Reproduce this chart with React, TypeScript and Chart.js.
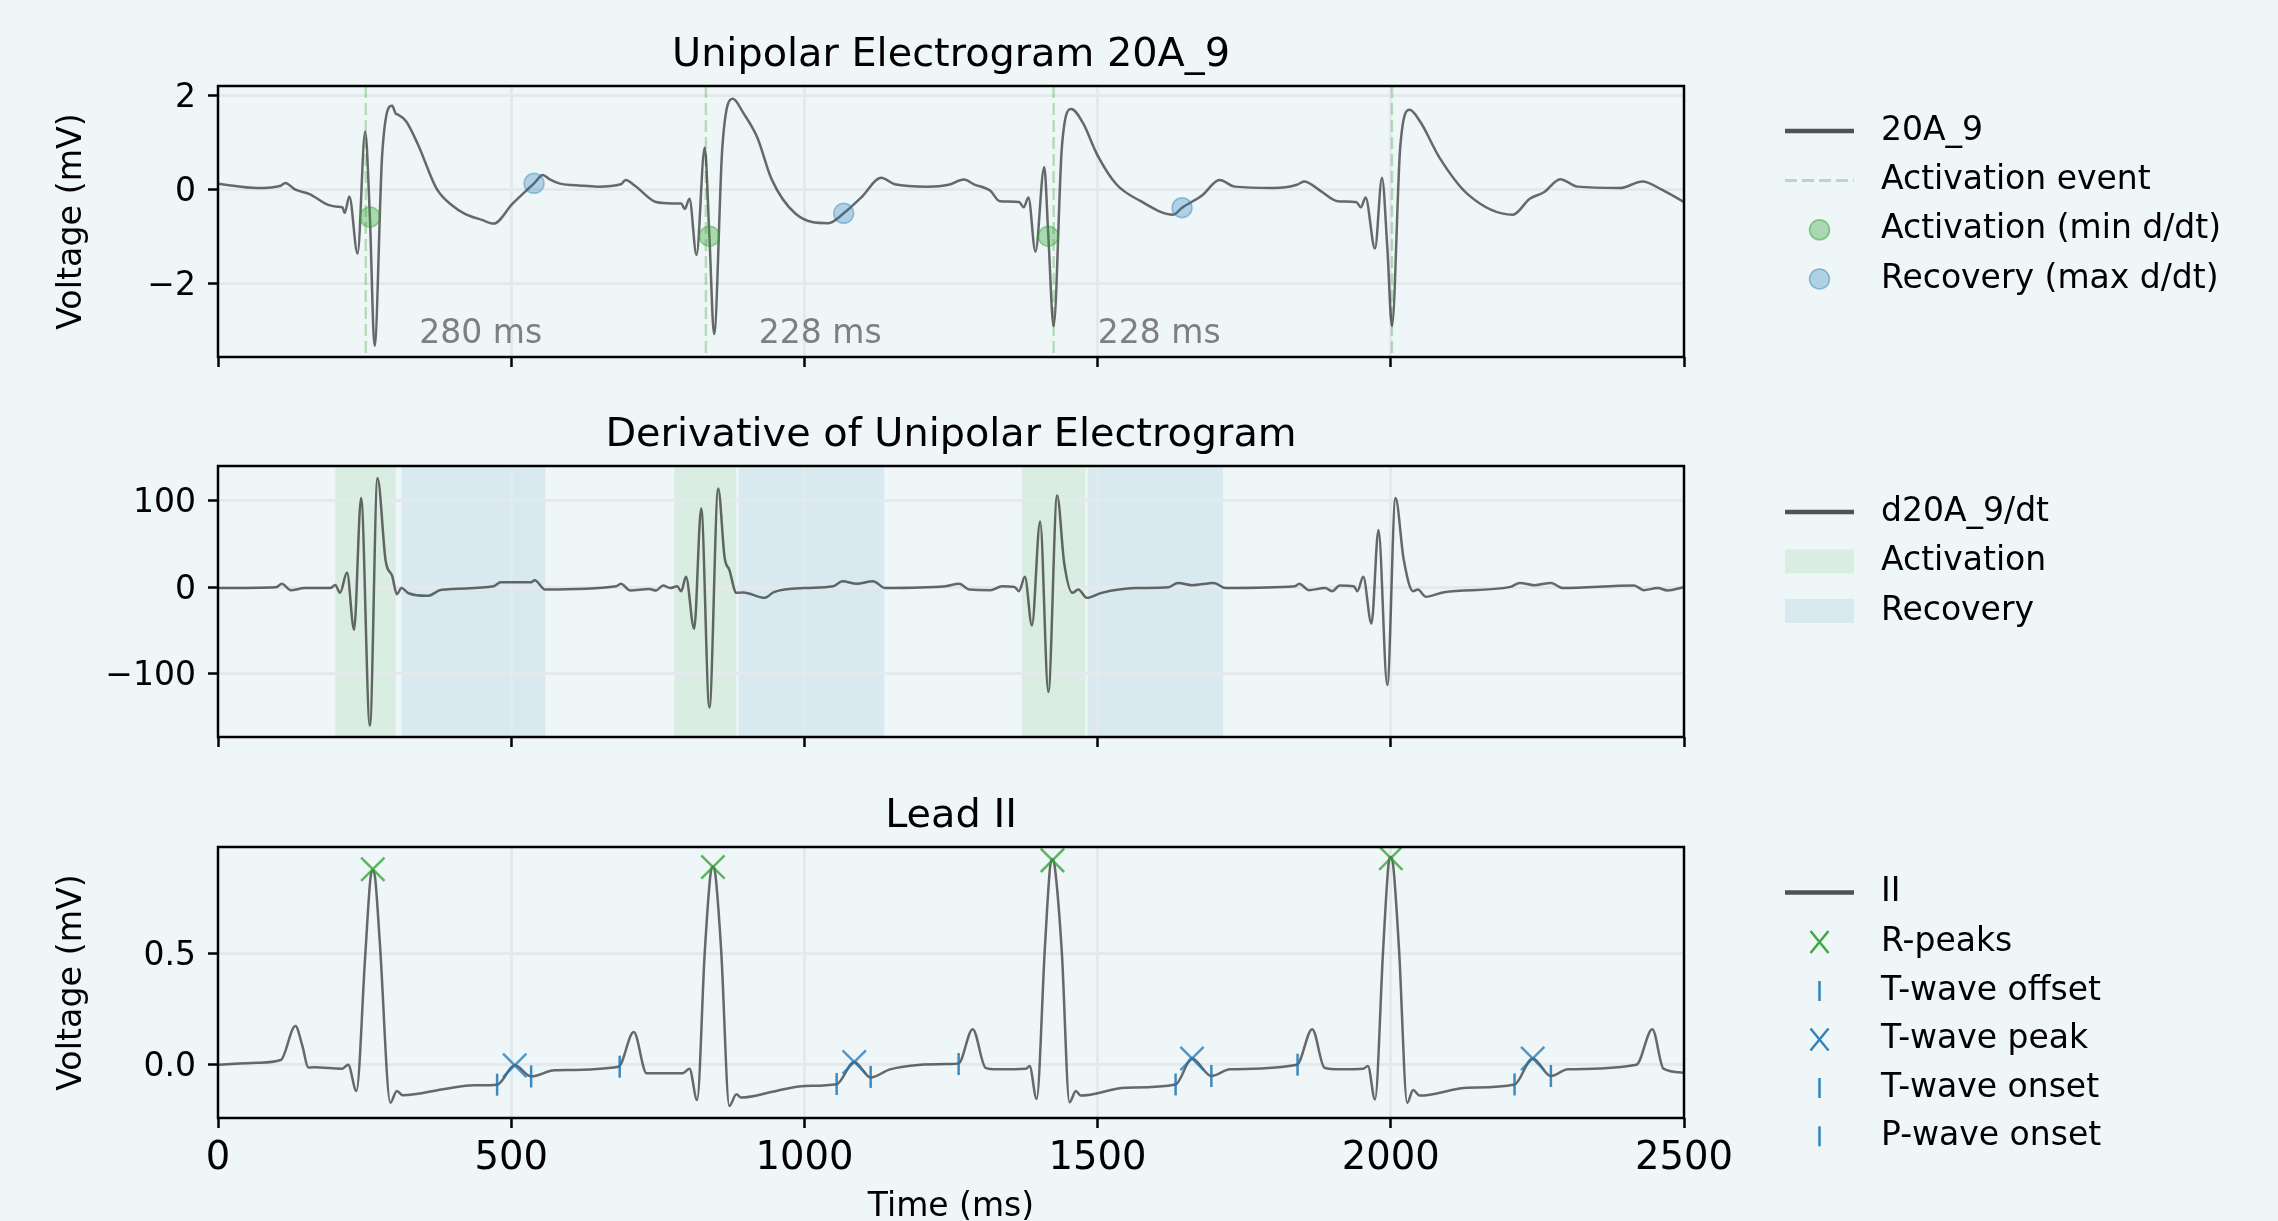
import React, { useEffect, useRef } from 'react';
import { Chart, registerables } from 'chart.js';

Chart.register(...registerables);

// ---------------- data ----------------
const timeTicks = [0, 500, 1000, 1500, 2000, 2500];
const timeRange = [0, 2500];

// Panel 1: unipolar electrogram 20A_9 (mV)
const egmTime = [0, 67, 107, 115, 131, 156, 188, 204, 212, 216, 224, 238, 251, 259, 267, 280, 297, 303, 307, 321, 341, 373, 400, 421, 450, 470, 502, 539, 554, 565, 582, 620, 647, 687, 695, 711, 747, 775, 790, 796, 804, 816, 830, 838, 846, 860, 878, 896, 920, 944, 985, 1041, 1067, 1097, 1131, 1154, 1210, 1246, 1272, 1289, 1317, 1333, 1366, 1374, 1382, 1394, 1409, 1416, 1425, 1439, 1455, 1475, 1499, 1532, 1572, 1629, 1644, 1678, 1708, 1734, 1799, 1840, 1852, 1880, 1909, 1941, 1949, 1957, 1973, 1985, 1994, 2002, 2016, 2032, 2050, 2083, 2131, 2208, 2237, 2261, 2289, 2318, 2391, 2429, 2463, 2500];
const egmVolt = [0.12, 0.03, 0.08, 0.14, 0.0, -0.1, -0.33, -0.37, -0.38, -0.5, -0.15, -1.37, 1.23, -0.59, -3.34, 0.75, 1.79, 1.62, 1.6, 1.45, 0.96, 0.01, -0.35, -0.52, -0.65, -0.73, -0.31, 0.13, 0.31, 0.22, 0.13, 0.08, 0.06, 0.11, 0.2, 0.08, -0.27, -0.3, -0.3, -0.42, -0.2, -1.4, 0.89, -1.0, -3.09, 0.89, 1.94, 1.63, 1.1, 0.22, -0.52, -0.72, -0.51, -0.17, 0.25, 0.11, 0.06, 0.1, 0.21, 0.11, -0.03, -0.25, -0.27, -0.38, -0.17, -1.33, 0.48, -1.0, -2.92, 0.89, 1.72, 1.42, 0.75, 0.11, -0.24, -0.54, -0.39, -0.13, 0.2, 0.06, 0.03, 0.1, 0.17, -0.03, -0.25, -0.27, -0.38, -0.17, -1.26, 0.25, -1.23, -2.92, 0.89, 1.7, 1.45, 0.68, -0.1, -0.54, -0.2, -0.06, 0.22, 0.06, 0.03, 0.17, -0.01, -0.27];
const activationTime = [259, 838, 1416];
const activationVolt = [-0.59, -1.0, -1.0];
const recoveryTime = [539, 1067, 1644];
const recoveryVolt = [0.13, -0.51, -0.39];
const activationEventTime = [252, 832, 1425, 2002];
const intervalText = ['280 ms', '228 ms', '228 ms'];
const intervalTextTime = [448, 1027, 1605];
const intervalTextVolt = [-3.09, -3.09, -3.09];
const egmTicks = [-2, 0, 2];
const egmRange = [-3.58, 2.21];
const egmLegendLabels = ['20A_9', 'Activation event', 'Activation (min d/dt)', 'Recovery (max d/dt)'];

// Panel 2: derivative
const derivTime = [0, 99, 109, 124, 148, 192, 200, 208, 220, 232, 244, 259, 272, 286, 297, 305, 313, 325, 357, 381, 470, 482, 534, 540, 558, 679, 687, 703, 735, 747, 759, 771, 783, 790, 798, 812, 824, 838, 853, 864, 872, 884, 896, 932, 948, 1001, 1049, 1065, 1089, 1117, 1138, 1240, 1264, 1281, 1317, 1337, 1358, 1366, 1376, 1388, 1402, 1416, 1431, 1443, 1457, 1467, 1482, 1507, 1564, 1621, 1637, 1661, 1698, 1718, 1836, 1844, 1860, 1888, 1900, 1913, 1937, 1943, 1953, 1967, 1979, 1994, 2008, 2022, 2038, 2046, 2060, 2091, 2204, 2220, 2245, 2273, 2293, 2415, 2431, 2455, 2472, 2500];
const derivValue = [-1, 0, 4, -3.5, -1, -1, 2.7, -6.5, 17, -49, 103, -160, 126, 30, 13, -8, -1, -7, -10, -3, 1, 5.7, 5.7, 8, -2.7, 1, 4, -3.8, -2, -3.8, 2, -1, 1, -4.6, 12, -48, 91, -139, 114, 34, 20, -6.5, -6, -12.3, -5.7, -1, 1, 7, 4, 7, -1, 1, 4, -2.7, -3.4, 1, 0.4, -4.6, 12, -44, 76, -121, 106, 28, -6.5, -2.7, -12.3, -6.5, -1, 0, 5, 2.3, 5, -1, 1, 4, -3.4, -1, -4.6, 2, 1, -4.6, 12, -42, 66, -113, 103, 32, -4.6, -2.7, -11, -5.7, 0.4, 5, 2.3, 5, -1, 2, -3.4, -1, -3.8, 0];
const activationWindowStart = [200, 778, 1371];
const activationWindowEnd = [303, 884, 1479];
const recoveryWindowStart = [313, 888, 1483];
const recoveryWindowEnd = [558, 1136, 1714];
const derivTicks = [-100, 0, 100];
const derivRange = [-173, 140];
const derivLegendLabels = ['d20A_9/dt', 'Activation', 'Recovery'];

// Panel 3: Lead II
const leadTime = [0, 67, 107, 132, 144, 154, 164, 212, 222, 236, 251, 260, 264, 268, 276, 294, 305, 315, 389, 437, 476, 506, 534, 574, 683, 709, 731, 792, 804, 817, 830, 840, 844, 848, 858, 872, 884, 892, 952, 1001, 1055, 1085, 1113, 1146, 1246, 1263, 1287, 1309, 1329, 1378, 1384, 1396, 1410, 1419, 1423, 1427, 1439, 1452, 1463, 1471, 1548, 1633, 1661, 1694, 1726, 1840, 1866, 1887, 1913, 1953, 1961, 1973, 1987, 1996, 2000, 2004, 2014, 2028, 2038, 2049, 2131, 2211, 2242, 2273, 2302, 2419, 2446, 2465, 2500];
const leadVolt = [0.0, 0.009, 0.021, 0.174, 0.084, -0.013, -0.012, -0.018, 0.0, -0.118, 0.488, 0.84, 0.877, 0.84, 0.548, -0.171, -0.118, -0.138, -0.108, -0.093, -0.09, -0.003, -0.053, -0.025, -0.009, 0.147, -0.039, -0.039, -0.018, -0.159, 0.503, 0.86, 0.892, 0.86, 0.518, -0.186, -0.133, -0.148, -0.118, -0.096, -0.088, 0.012, -0.058, -0.021, 0.003, 0.006, 0.16, -0.014, -0.021, -0.018, -0.006, -0.154, 0.521, 0.89, 0.925, 0.89, 0.506, -0.169, -0.119, -0.139, -0.104, -0.089, 0.028, -0.051, -0.021, 0.0, 0.16, -0.014, -0.021, -0.018, -0.006, -0.157, 0.521, 0.9, 0.935, 0.9, 0.521, -0.172, -0.114, -0.139, -0.104, -0.089, 0.028, -0.051, -0.021, 0.0, 0.16, -0.018, -0.036];
const rPeakTime = [264, 844, 1423, 2000];
const rPeakVolt = [0.88, 0.89, 0.92, 0.93];
const tOffsetTime = [534, 1113, 1694, 2273];
const tOffsetVolt = [-0.053, -0.055, -0.051, -0.051];
const tPeakTime = [506, 1085, 1661, 2242];
const tPeakVolt = [-0.003, 0.012, 0.028, 0.028];
const tOnsetTime = [476, 1055, 1633, 2211];
const tOnsetVolt = [-0.09, -0.087, -0.089, -0.089];
const pOnsetTime = [685, 1263, 1841];
const pOnsetVolt = [-0.009, 0.003, 0.0];
const leadTicks = [0, 0.5];
const leadRange = [-0.24, 0.98];
const leadLegendLabels = ['II', 'R-peaks', 'T-wave offset', 'T-wave peak', 'T-wave onset', 'P-wave onset'];

// ---------------- styling / layout ----------------
const PAGE_W = 2278;
const PAGE_H = 1221;
const CANVAS_W = 2278;
const CANVAS_H = 1240;
const AREA_LEFT = 218;
const AREA_RIGHT = 1684;
const PAD_LEFT = 50;
const BG = '#eff6f8';
const FONT = "'DejaVu Sans', 'Liberation Sans', sans-serif";
const GRID = '#e4e9eb';
const TRACE = 'rgba(30,30,30,0.66)';
const LEGEND_TRACE = 'rgba(40,45,50,0.82)';
const GREEN = 'rgba(44,160,44,';
const BLUE = 'rgba(31,119,180,';
const TITLE_SIZE = 39.8;
const TITLE_PAD_BOTTOM = 6.5;
const TITLE_BOX = TITLE_SIZE * 1.2 + TITLE_PAD_BOTTOM;
const LEGEND_SHIFT = 3;

Chart.defaults.font.family = FONT;
Chart.defaults.color = '#000';

const pts = (xs: number[], ys: number[]) => xs.map((x, i) => ({ x, y: ys[i] }));
const minusFmt = (digits: number) => (v: number) =>
  (v < 0 ? '\u2212' : '') + Math.abs(v).toFixed(digits);

type LegendEntry = { label: string; kind: string; color: string; edge?: string; y: number };

function legendPlugin(entries: LegendEntry[]) {
  return {
    id: 'sideLegend',
    afterDraw(chart: any) {
      const ctx = chart.ctx as CanvasRenderingContext2D;
      const x0 = 1785, x1 = 1854, xm = 1819.5, tx = 1881;
      ctx.save();
      entries.forEach((e) => {
        const y = e.y + LEGEND_SHIFT;
        ctx.setLineDash([]);
        if (e.kind === 'line' || e.kind === 'dash') {
          ctx.beginPath();
          ctx.strokeStyle = e.color;
          ctx.lineWidth = e.kind === 'line' ? 4.5 : 3;
          if (e.kind === 'dash') ctx.setLineDash([12, 5]);
          ctx.moveTo(x0, y);
          ctx.lineTo(x1, y);
          ctx.stroke();
          ctx.setLineDash([]);
        } else if (e.kind === 'circle') {
          ctx.beginPath();
          ctx.arc(xm, y, 10, 0, Math.PI * 2);
          ctx.fillStyle = e.color;
          ctx.fill();
          ctx.strokeStyle = e.edge || e.color;
          ctx.lineWidth = 1.5;
          ctx.stroke();
        } else if (e.kind === 'x') {
          ctx.beginPath();
          ctx.strokeStyle = e.color;
          ctx.lineWidth = 2.5;
          ctx.moveTo(xm - 9, y - 11);
          ctx.lineTo(xm + 9, y + 11);
          ctx.moveTo(xm + 9, y - 11);
          ctx.lineTo(xm - 9, y + 11);
          ctx.stroke();
        } else if (e.kind === 'vbar') {
          ctx.beginPath();
          ctx.strokeStyle = e.color;
          ctx.lineWidth = 2.5;
          ctx.moveTo(xm, y - 10);
          ctx.lineTo(xm, y + 10);
          ctx.stroke();
        } else if (e.kind === 'patch') {
          ctx.fillStyle = e.color;
          ctx.fillRect(x0, y - 12, x1 - x0, 24);
        }
        ctx.fillStyle = '#000';
        ctx.font = `33px ${FONT}`;
        ctx.textAlign = 'left';
        ctx.textBaseline = 'middle';
        ctx.fillText(e.label, tx, y);
      });
      ctx.restore();
    },
  };
}

const framePlugin = {
  id: 'frame',
  afterDatasetsDraw(chart: any) {
    const { ctx, chartArea: a } = chart;
    ctx.save();
    ctx.strokeStyle = '#000';
    ctx.lineWidth = 2.5;
    ctx.setLineDash([]);
    ctx.strokeRect(a.left, a.top, a.right - a.left, a.bottom - a.top);
    ctx.restore();
  },
};

const spanPlugin = {
  id: 'spans',
  beforeDraw(chart: any) {
    const { ctx, chartArea: a, scales } = chart;
    const xs = scales.x;
    ctx.save();
    const fill = (s: number[], e: number[], c: string) => {
      ctx.fillStyle = c;
      s.forEach((v, i) => {
        const p0 = xs.getPixelForValue(v);
        const p1 = xs.getPixelForValue(e[i]);
        ctx.fillRect(p0, a.top, p1 - p0, a.bottom - a.top);
      });
    };
    fill(activationWindowStart, activationWindowEnd, GREEN + '0.1)');
    fill(recoveryWindowStart, recoveryWindowEnd, BLUE + '0.1)');
    ctx.restore();
  },
};

const eventLinePlugin = {
  id: 'eventLines',
  beforeDatasetsDraw(chart: any) {
    const { ctx, chartArea: a, scales } = chart;
    ctx.save();
    ctx.strokeStyle = GREEN + '0.3)';
    ctx.lineWidth = 2.5;
    ctx.setLineDash([12, 5]);
    activationEventTime.forEach((t) => {
      const x = scales.x.getPixelForValue(t);
      ctx.beginPath();
      ctx.moveTo(x, a.top);
      ctx.lineTo(x, a.bottom);
      ctx.stroke();
    });
    ctx.restore();
  },
};

const intervalTextPlugin = {
  id: 'intervalText',
  afterDatasetsDraw(chart: any) {
    const { ctx, scales } = chart;
    ctx.save();
    ctx.fillStyle = '#7f7f7f';
    ctx.font = `33px ${FONT}`;
    ctx.textAlign = 'center';
    ctx.textBaseline = 'middle';
    intervalText.forEach((txt, i) => {
      ctx.fillText(txt, scales.x.getPixelForValue(intervalTextTime[i]), scales.y.getPixelForValue(intervalTextVolt[i]));
    });
    ctx.restore();
  },
};

function buildOptions(p: {
  top: number; bottom: number; title: string; yRange: number[]; yTicks: number[];
  yFmt: (v: number) => string; yTitle?: string; showX: boolean; xAxisH: number;
}) {
  return {
    responsive: false,
    maintainAspectRatio: false,
    animation: false,
    devicePixelRatio: 1,
    events: [],
    layout: {
      autoPadding: false,
      padding: {
        left: PAD_LEFT,
        right: CANVAS_W - AREA_RIGHT,
        top: p.top - TITLE_BOX,
        bottom: CANVAS_H - p.bottom - p.xAxisH,
      },
    },
    plugins: {
      legend: { display: false },
      tooltip: { enabled: false },
      title: {
        display: true,
        text: p.title,
        color: '#000',
        fullSize: false,
        align: 'center',
        font: { size: TITLE_SIZE, weight: 'normal', lineHeight: 1.2, family: FONT },
        padding: { top: 0, bottom: TITLE_PAD_BOTTOM },
      },
    },
    scales: {
      x: {
        type: 'linear',
        min: timeRange[0],
        max: timeRange[1],
        afterBuildTicks: (s: any) => { s.ticks = timeTicks.map((v) => ({ value: v })); },
        afterFit: (s: any) => { s.height = p.xAxisH; s.paddingLeft = 0; s.paddingRight = 0; },
        ticks: {
          display: p.showX,
          autoSkip: false,
          maxRotation: 0,
          minRotation: 0,
          padding: 8,
          color: '#000',
          font: { size: 38.5, family: FONT },
          callback: (v: number) => String(v),
        },
        grid: {
          color: (c: any) => (c.tick && (c.tick.value === timeRange[0] || c.tick.value === timeRange[1]) ? 'rgba(0,0,0,0)' : GRID),
          lineWidth: 3,
          drawTicks: true,
          tickColor: '#000',
          tickWidth: 2.5,
          tickLength: 10,
        },
        border: { display: false },
        title: {
          display: p.showX,
          text: 'Time (ms)',
          color: '#000',
          font: { size: 33, family: FONT },
          padding: { top: 4, bottom: 4 },
        },
      },
      y: {
        type: 'linear',
        min: p.yRange[0],
        max: p.yRange[1],
        afterBuildTicks: (s: any) => { s.ticks = p.yTicks.map((v) => ({ value: v })); },
        afterFit: (s: any) => { s.width = AREA_LEFT - PAD_LEFT; s.paddingTop = 0; s.paddingBottom = 0; },
        ticks: {
          autoSkip: false,
          padding: 12,
          labelOffset: 3,
          color: '#000',
          font: { size: 33, family: FONT },
          callback: (v: number) => p.yFmt(v),
        },
        grid: {
          color: GRID,
          lineWidth: 3,
          drawTicks: true,
          tickColor: '#000',
          tickWidth: 2.5,
          tickLength: 10,
        },
        border: { display: false },
        title: {
          display: !!p.yTitle,
          text: p.yTitle || '',
          color: '#000',
          font: { size: 33.3, family: FONT },
          padding: { top: 2, bottom: 4 },
        },
      },
    },
  } as any;
}

const traceStyle = { type: 'line', borderColor: TRACE, borderWidth: 2.5, pointRadius: 0, cubicInterpolationMode: 'monotone', fill: false, order: 3 };

function egmConfig(): any {
  return {
    type: 'scatter',
    data: {
      datasets: [
        { ...traceStyle, label: egmLegendLabels[0], data: pts(egmTime, egmVolt) },
        { label: egmLegendLabels[2], data: pts(activationTime, activationVolt), pointStyle: 'circle', pointRadius: 10, pointBackgroundColor: GREEN + '0.35)', pointBorderColor: GREEN + '0.45)', pointBorderWidth: 1.5, order: 1 },
        { label: egmLegendLabels[3], data: pts(recoveryTime, recoveryVolt), pointStyle: 'circle', pointRadius: 10, pointBackgroundColor: BLUE + '0.3)', pointBorderColor: BLUE + '0.4)', pointBorderWidth: 1.5, order: 1 },
      ],
    },
    options: buildOptions({ top: 86, bottom: 357, title: 'Unipolar Electrogram 20A_9', yRange: egmRange, yTicks: egmTicks, yFmt: minusFmt(0), yTitle: 'Voltage (mV)', showX: false, xAxisH: 20 }),
    plugins: [
      eventLinePlugin,
      intervalTextPlugin,
      framePlugin,
      legendPlugin([
        { label: egmLegendLabels[0], kind: 'line', color: LEGEND_TRACE, y: 128 },
        { label: egmLegendLabels[1], kind: 'dash', color: GREEN + '0.3)', y: 177.5 },
        { label: egmLegendLabels[2], kind: 'circle', color: GREEN + '0.35)', edge: GREEN + '0.5)', y: 226.8 },
        { label: egmLegendLabels[3], kind: 'circle', color: BLUE + '0.3)', edge: BLUE + '0.45)', y: 276 },
      ]),
    ],
  };
}

function derivConfig(): any {
  return {
    type: 'scatter',
    data: {
      datasets: [
        { ...traceStyle, label: derivLegendLabels[0], data: pts(derivTime, derivValue) },
      ],
    },
    options: buildOptions({ top: 466, bottom: 737, title: 'Derivative of Unipolar Electrogram', yRange: derivRange, yTicks: derivTicks, yFmt: minusFmt(0), showX: false, xAxisH: 20 }),
    plugins: [
      spanPlugin,
      framePlugin,
      legendPlugin([
        { label: derivLegendLabels[0], kind: 'line', color: LEGEND_TRACE, y: 509 },
        { label: derivLegendLabels[1], kind: 'patch', color: GREEN + '0.1)', y: 558.5 },
        { label: derivLegendLabels[2], kind: 'patch', color: BLUE + '0.1)', y: 608 },
      ]),
    ],
  };
}

function leadConfig(): any {
  const bar = { pointStyle: 'line', pointRotation: 90, pointRadius: 11, pointBorderColor: BLUE + '0.85)', pointBackgroundColor: BLUE + '0.85)', pointBorderWidth: 2.5, order: 1 };
  return {
    type: 'scatter',
    data: {
      datasets: [
        { ...traceStyle, label: leadLegendLabels[0], data: pts(leadTime, leadVolt) },
        { label: leadLegendLabels[1], data: pts(rPeakTime, rPeakVolt), pointStyle: 'crossRot', pointRadius: 16.5, pointBorderColor: GREEN + '0.75)', pointBackgroundColor: GREEN + '0.75)', pointBorderWidth: 2.5, order: 1 },
        { label: leadLegendLabels[2], data: pts(tOffsetTime, tOffsetVolt), ...bar },
        { label: leadLegendLabels[3], data: pts(tPeakTime, tPeakVolt), pointStyle: 'crossRot', pointRadius: 16.5, pointBorderColor: BLUE + '0.75)', pointBackgroundColor: BLUE + '0.75)', pointBorderWidth: 2.5, order: 1 },
        { label: leadLegendLabels[4], data: pts(tOnsetTime, tOnsetVolt), ...bar },
        { label: leadLegendLabels[5], data: pts(pOnsetTime, pOnsetVolt), ...bar },
      ],
    },
    options: buildOptions({ top: 847, bottom: 1118, title: 'Lead II', yRange: leadRange, yTicks: leadTicks, yFmt: minusFmt(1), yTitle: 'Voltage (mV)', showX: true, xAxisH: 113.4 }),
    plugins: [
      framePlugin,
      legendPlugin([
        { label: leadLegendLabels[0], kind: 'line', color: LEGEND_TRACE, y: 889.5 },
        { label: leadLegendLabels[1], kind: 'x', color: GREEN + '0.9)', y: 939 },
        { label: leadLegendLabels[2], kind: 'vbar', color: BLUE + '0.9)', y: 988 },
        { label: leadLegendLabels[3], kind: 'x', color: BLUE + '0.9)', y: 1036.5 },
        { label: leadLegendLabels[4], kind: 'vbar', color: BLUE + '0.9)', y: 1085 },
        { label: leadLegendLabels[5], kind: 'vbar', color: BLUE + '0.9)', y: 1133.3 },
      ]),
    ],
  };
}

const canvasStyle: React.CSSProperties = { position: 'absolute', left: 0, top: 0, width: CANVAS_W, height: CANVAS_H };

export default function App() {
  const r1 = useRef<HTMLCanvasElement>(null);
  const r2 = useRef<HTMLCanvasElement>(null);
  const r3 = useRef<HTMLCanvasElement>(null);

  useEffect(() => {
    const charts = [
      new Chart(r1.current as HTMLCanvasElement, egmConfig()),
      new Chart(r2.current as HTMLCanvasElement, derivConfig()),
      new Chart(r3.current as HTMLCanvasElement, leadConfig()),
    ];
    return () => charts.forEach((c) => c.destroy());
  }, []);

  return (
    <div style={{ position: 'fixed', left: 0, top: 0, width: PAGE_W, height: PAGE_H, background: BG, overflow: 'hidden' }}>
      <canvas ref={r1} width={CANVAS_W} height={CANVAS_H} style={canvasStyle} />
      <canvas ref={r2} width={CANVAS_W} height={CANVAS_H} style={canvasStyle} />
      <canvas ref={r3} width={CANVAS_W} height={CANVAS_H} style={canvasStyle} />
    </div>
  );
}
